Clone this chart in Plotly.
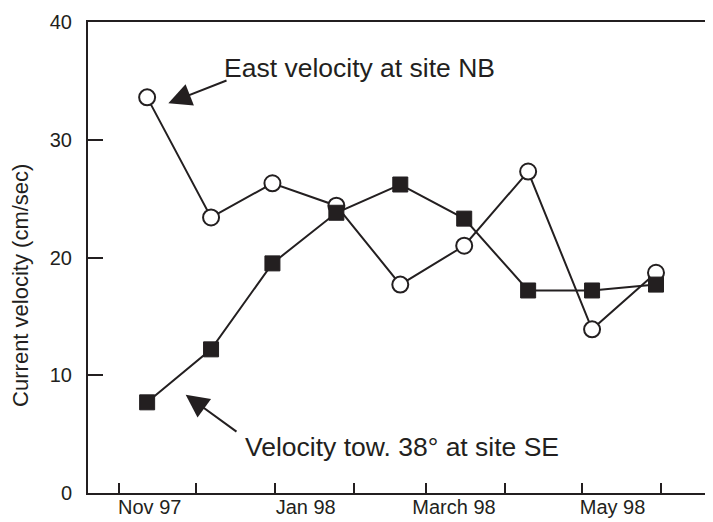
import plotly.graph_objects as go

# ---- data ----
dates = ["1997-11-12", "1997-12-07", "1997-12-31", "1998-01-25", "1998-02-19",
         "1998-03-16", "1998-04-10", "1998-05-05", "1998-05-30"]
east_nb = [33.6, 23.4, 26.3, 24.4, 17.7, 21.0, 27.3, 13.9, 18.7]
tow38_se = [7.7, 12.2, 19.5, 23.8, 26.2, 23.3, 17.2, 17.2, 17.7]

month_ticks = ["1997-11-01", "1997-12-01", "1998-01-01", "1998-02-01", "1998-03-01",
               "1998-04-01", "1998-05-01", "1998-06-01"]
label_dates = ["1997-11-13", "1998-01-13", "1998-03-12", "1998-05-13"]
label_text = ["Nov 97", "Jan 98", "March 98", "May 98"]
y_ticks = [0, 10, 20, 30, 40]
y_title = "Current velocity (cm/sec)"

INK = "#231f20"
FONT = "Liberation Sans, Arial, Helvetica, sans-serif"
x_range = ["1997-10-19 21:00", "1998-06-21 07:00"]

fig = go.Figure()
fig.add_trace(go.Scatter(
    x=dates, y=east_nb, mode="lines+markers", name="East velocity at site NB",
    line=dict(color=INK, width=2),
    marker=dict(symbol="circle", size=16, color="white", line=dict(color=INK, width=2)),
    cliponaxis=False,
))
fig.add_trace(go.Scatter(
    x=dates, y=tow38_se, mode="lines+markers", name="Velocity tow. 38° at site SE",
    line=dict(color=INK, width=2),
    marker=dict(symbol="square", size=15, color=INK, line=dict(color=INK, width=1)),
    cliponaxis=False,
))
# invisible trace to carry the label axis
fig.add_trace(go.Scatter(
    x=label_dates, y=[0] * len(label_dates), xaxis="x2", mode="markers",
    marker=dict(opacity=0), hoverinfo="skip", showlegend=False,
))

# page body has an 8px margin, so the figure is sized/offset to compensate
fig.update_layout(
    width=705, height=514,
    margin=dict(l=80, r=0, t=14, b=29),
    paper_bgcolor="white", plot_bgcolor="white",
    showlegend=False,
    font=dict(family=FONT, color=INK, size=20),
    xaxis=dict(
        type="date", range=x_range,
        tickvals=month_ticks, ticktext=[""] * len(month_ticks),
        ticks="inside", ticklen=10, tickwidth=1.5, tickcolor=INK,
        showline=True, linecolor=INK, linewidth=2, mirror=True,
        showgrid=False, zeroline=False,
    ),
    xaxis2=dict(
        type="date", overlaying="x", matches="x", side="bottom", anchor="y",
        tickvals=label_dates, ticktext=label_text,
        ticks="", showline=False, showgrid=False, zeroline=False,
        tickfont=dict(size=20, color=INK, family=FONT),
    ),
    yaxis=dict(
        range=[0, 40], tickvals=y_ticks,
        ticks="inside", ticklen=15, tickwidth=1.5, tickcolor=INK,
        showline=True, linecolor=INK, linewidth=2, mirror=False,
        showgrid=False, zeroline=False,
        ticklabelstandoff=10,
        tickfont=dict(size=20, color=INK, family=FONT),
    ),
)

# y-axis title (placed as rotated text, slightly below the axis centre as in the original)
fig.add_annotation(xref="paper", yref="paper", x=-0.107, y=0.44, xanchor="center",
                   yanchor="middle", text=y_title, textangle=-90, showarrow=False,
                   font=dict(size=22, color=INK, family=FONT))

# arrows
fig.add_annotation(xref="paper", yref="paper", x=0.1285, y=0.8275, ax=59.7, ay=-23.3,
                   text="", showarrow=True, arrowhead=2, arrowsize=2.3,
                   arrowwidth=2, arrowcolor=INK, standoff=0)
fig.add_annotation(xref="paper", yref="paper", x=0.1563, y=0.2086, ax=52.3, ay=38,
                   text="", showarrow=True, arrowhead=2, arrowsize=2.3,
                   arrowwidth=2, arrowcolor=INK, standoff=0)
# labels
fig.add_annotation(xref="paper", yref="paper", x=0.2144, y=0.9024, xanchor="left",
                   yanchor="middle", text="East velocity at site NB", showarrow=False,
                   font=dict(size=26.5, color=INK, family=FONT))
fig.add_annotation(xref="paper", yref="paper", x=0.248, y=0.0982, xanchor="left",
                   yanchor="middle", text="Velocity tow. 38° at site SE", showarrow=False,
                   font=dict(size=26.5, color=INK, family=FONT))

fig.write_html("out.html")
